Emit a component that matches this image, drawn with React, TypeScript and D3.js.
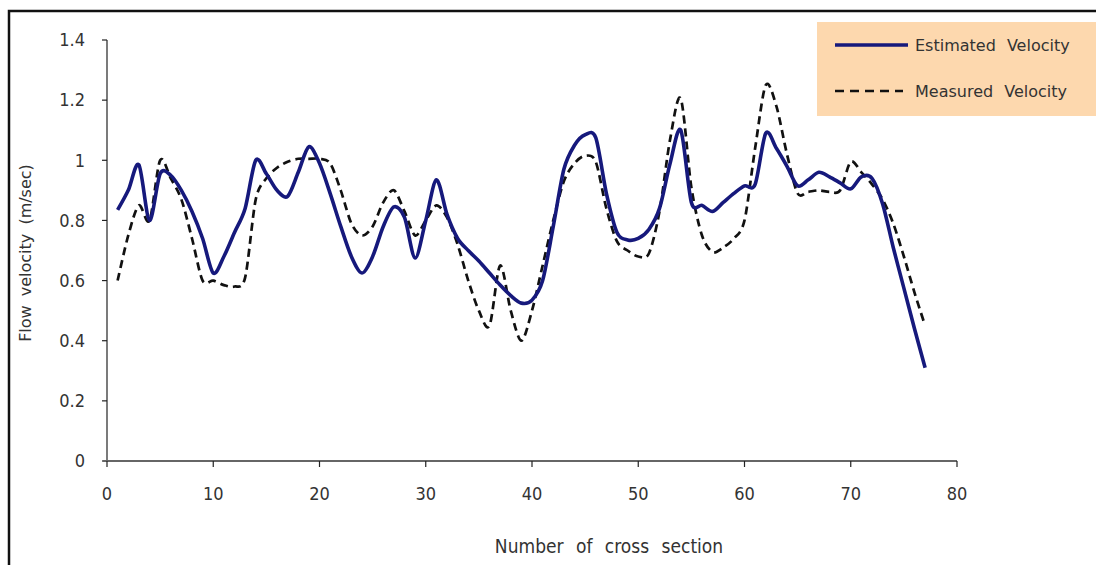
import React from 'react';
import * as d3 from 'd3';

// cross section numbers 1..77
const sections: number[] = d3.range(1, 78);

const estimated: number[] = [
  0.835, 0.90, 0.985, 0.80, 0.955, 0.95, 0.90, 0.83, 0.74, 0.625,
  0.68, 0.76, 0.84, 1.00, 0.955, 0.90, 0.88, 0.96, 1.045, 0.99,
  0.89, 0.78, 0.68, 0.625, 0.68, 0.78, 0.845, 0.81, 0.675, 0.80,
  0.935, 0.82, 0.74, 0.70, 0.665, 0.625, 0.585, 0.55, 0.525, 0.535,
  0.60, 0.78, 0.97, 1.05, 1.085, 1.075, 0.89, 0.76, 0.735, 0.74,
  0.77, 0.84, 0.99, 1.10, 0.86, 0.85, 0.83, 0.86, 0.89, 0.915,
  0.92, 1.09, 1.04, 0.98, 0.915, 0.935, 0.96, 0.945, 0.925, 0.905,
  0.945, 0.94, 0.855, 0.71, 0.575, 0.44, 0.31,
];

const measured: number[] = [
  0.60, 0.75, 0.85, 0.80, 1.00, 0.94, 0.87, 0.74, 0.60, 0.60,
  0.585, 0.58, 0.61, 0.87, 0.94, 0.975, 0.995, 1.005, 1.005, 1.005,
  0.99, 0.90, 0.79, 0.75, 0.78, 0.86, 0.90, 0.83, 0.75, 0.80,
  0.85, 0.81, 0.72, 0.60, 0.50, 0.45, 0.65, 0.50, 0.40, 0.50,
  0.65, 0.80, 0.93, 0.99, 1.015, 0.995, 0.84, 0.73, 0.70, 0.68,
  0.69, 0.83, 1.07, 1.205, 0.91, 0.75, 0.695, 0.71, 0.74, 0.80,
  1.04, 1.25, 1.18, 1.02, 0.89, 0.895, 0.90, 0.895, 0.90, 0.995,
  0.96, 0.92, 0.87, 0.79, 0.68, 0.56, 0.45,
];

const xTicks: number[] = [0, 10, 20, 30, 40, 50, 60, 70, 80];
const yTicks: number[] = [0, 0.2, 0.4, 0.6, 0.8, 1, 1.2, 1.4];

const W = 1096;
const H = 565;

const App: React.FC = () => {
  const x = d3.scaleLinear().domain([0, 80]).range([107, 957]);
  const y = d3.scaleLinear().domain([0, 1.4]).range([461, 40]);

  const line = d3.line<number>()
    .x((_, i) => x(sections[i]))
    .y(d => y(d))
    .curve(d3.curveCardinal.tension(0.1));

  const tickFont = '"Liberation Sans Narrow", "DejaVu Sans Condensed", "Liberation Sans", sans-serif';
  const labelFont = '"DejaVu Sans", Verdana, sans-serif';

  return (
    <svg width={W} height={H} style={{ position: 'absolute', left: 0, top: 0, background: '#fff' }}>
      {/* outer frame */}
      <rect x={9} y={11} width={1200} height={700} fill="none" stroke="#111" strokeWidth={2.5} />

      {/* y axis */}
      <line x1={107} x2={107} y1={y(1.4)} y2={y(0)} stroke="#222" strokeWidth={1.2} />
      {yTicks.map(t => (
        <g key={'y' + t}>
          <line x1={102} x2={107} y1={y(t)} y2={y(t)} stroke="#222" strokeWidth={1.2} />
          <text x={85} y={y(t)} dy="0.35em" textAnchor="end" fontFamily={tickFont}
            fontSize={18} fill="#333">{d3.format('~g')(t)}</text>
        </g>
      ))}

      {/* x axis */}
      <line x1={x(0) - 4} x2={x(80)} y1={461} y2={461} stroke="#666" strokeWidth={2} />
      {xTicks.map(t => (
        <g key={'x' + t}>
          <line x1={x(t)} x2={x(t)} y1={461} y2={467} stroke="#222" strokeWidth={1.2} />
          <text x={x(t)} y={500} textAnchor="middle" fontFamily={tickFont}
            fontSize={18} fill="#333">{t}</text>
        </g>
      ))}

      {/* axis titles */}
      <text x={609} y={553} textAnchor="middle" fontFamily={tickFont} fontSize={19}
        fill="#333" wordSpacing={7}>Number of cross section</text>
      <text transform="translate(31,253) rotate(-90)" textAnchor="middle" fontFamily={labelFont}
        fontSize={16} fill="#333" wordSpacing={4}>Flow velocity (m/sec)</text>

      {/* series */}
      <path d={line(measured) ?? ''} fill="none" stroke="#111" strokeWidth={2.7}
        strokeDasharray="8,5" />
      <path d={line(estimated) ?? ''} fill="none" stroke="#16197c" strokeWidth={3.6} />

      {/* legend */}
      <rect x={817} y={22} width={279} height={94} fill="#fdd8ae" />
      <line x1={835} x2={908} y1={45} y2={45} stroke="#16197c" strokeWidth={3.6} />
      <text x={915} y={45} dy="0.35em" fontFamily={labelFont} fontSize={16} fill="#333"
        wordSpacing={6}>Estimated Velocity</text>
      <line x1={835} x2={903} y1={91} y2={91} stroke="#111" strokeWidth={2.7}
        strokeDasharray="9,6" />
      <text x={915} y={91} dy="0.35em" fontFamily={labelFont} fontSize={16} fill="#333"
        wordSpacing={6}>Measured Velocity</text>
    </svg>
  );
};

export default App;
